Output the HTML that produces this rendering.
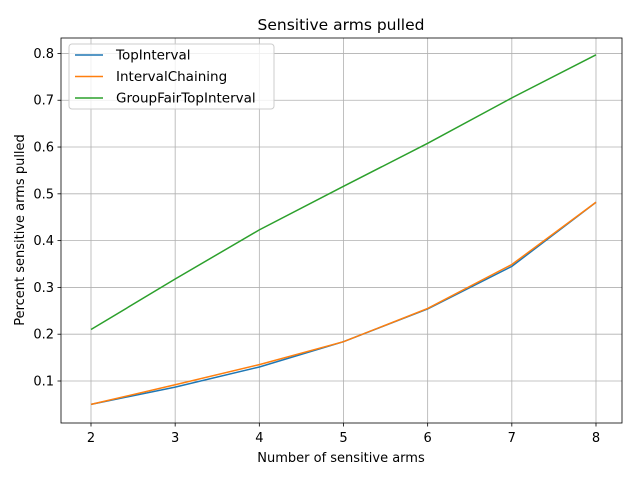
<!DOCTYPE html>
<html><head><meta charset="utf-8"><style>
body{margin:0;background:#fff;}
svg{font-family:"DejaVu Sans","Liberation Sans",sans-serif;}
</style></head><body>
<svg id="chart" width="640" height="480" xmlns="http://www.w3.org/2000/svg">
<rect width="640" height="480" fill="#fff"/>
<text x="341" y="30" text-anchor="middle" font-size="15.5">Sensitive arms pulled</text>
<g id="grid"></g>
<g id="lines"></g>
<rect x="61" y="38" width="561" height="385" fill="none" stroke="#000" stroke-width="0.8"/>
<g id="ticks"></g>
<text x="341" y="462" text-anchor="middle" font-size="13">Number of sensitive arms</text>
<text transform="translate(24,230) rotate(-90)" text-anchor="middle" font-size="13">Percent sensitive arms pulled</text>
<g id="legend">
<rect x="69" y="44" width="205" height="65" rx="3" fill="#fff" fill-opacity="0.8" stroke="#ccc"/>
</g>
</svg>
<script>
const categories=[2,3,4,5,6,7,8];
const topInterval=[0.05,0.087,0.13,0.184,0.254,0.345,0.482];
const intervalChaining=[0.05,0.092,0.135,0.184,0.255,0.349,0.482];
const groupFair=[0.21,0.318,0.423,0.516,0.608,0.705,0.797];
const seriesNames=["TopInterval","IntervalChaining","GroupFairTopInterval"];
const xTicks=[2,3,4,5,6,7,8];
const yTicks=[0.1,0.2,0.3,0.4,0.5,0.6,0.7,0.8];
const colors=["#1f77b4","#ff7f0e","#2ca02c"];
const NS="http://www.w3.org/2000/svg";
const L=61,R=622,T=38,B=423,xmin=1.6436,xmax=8.309,ymin=0.01026,ymax=0.833;
const X=v=>L+(v-xmin)/(xmax-xmin)*(R-L);
const Y=v=>B-(v-ymin)/(ymax-ymin)*(B-T);
function mk(tag,attrs,parent){const e=document.createElementNS(NS,tag);for(const k in attrs)e.setAttribute(k,attrs[k]);parent.appendChild(e);return e;}
const grid=document.getElementById('grid'),ticks=document.getElementById('ticks'),lines=document.getElementById('lines'),leg=document.getElementById('legend');
xTicks.forEach(v=>{const x=X(v);
 const g=mk('line',{x1:x,x2:x,y1:T,y2:B,stroke:'#b0b0b0','stroke-width':0.8},grid);
 
 
 mk('line',{x1:x,x2:x,y1:B,y2:B+3.5,stroke:'#000','stroke-width':0.8},ticks);
 const t=mk('text',{x:x,y:B+19,'text-anchor':'middle','font-size':13},ticks);t.textContent=v;
 
 
});
yTicks.forEach(v=>{const y=Y(v);
 const g=mk('line',{x1:L,x2:R,y1:y,y2:y,stroke:'#b0b0b0','stroke-width':0.8},grid);
 
 
 mk('line',{x1:L-3.5,x2:L,y1:y,y2:y,stroke:'#000','stroke-width':0.8},ticks);
 const t=mk('text',{x:L-7,y:y+4.5,'text-anchor':'end','font-size':13},ticks);t.textContent=v.toFixed(1);
 
 
});
[topInterval,intervalChaining,groupFair].forEach((s,i)=>{
 const p=mk('polyline',{points:s.map((v,j)=>X(categories[j])+','+Y(v)).join(' '),fill:'none',stroke:colors[i],'stroke-width':1.5},lines);
 
 
 const ly=55+i*21.5;
 mk('line',{x1:75,x2:103,y1:ly,y2:ly,stroke:colors[i],'stroke-width':1.5},leg);
 const t=mk('text',{x:116,y:ly+4.5,'font-size':13.5},leg);t.textContent=seriesNames[i];
 
 
});
</script>
</body></html>
